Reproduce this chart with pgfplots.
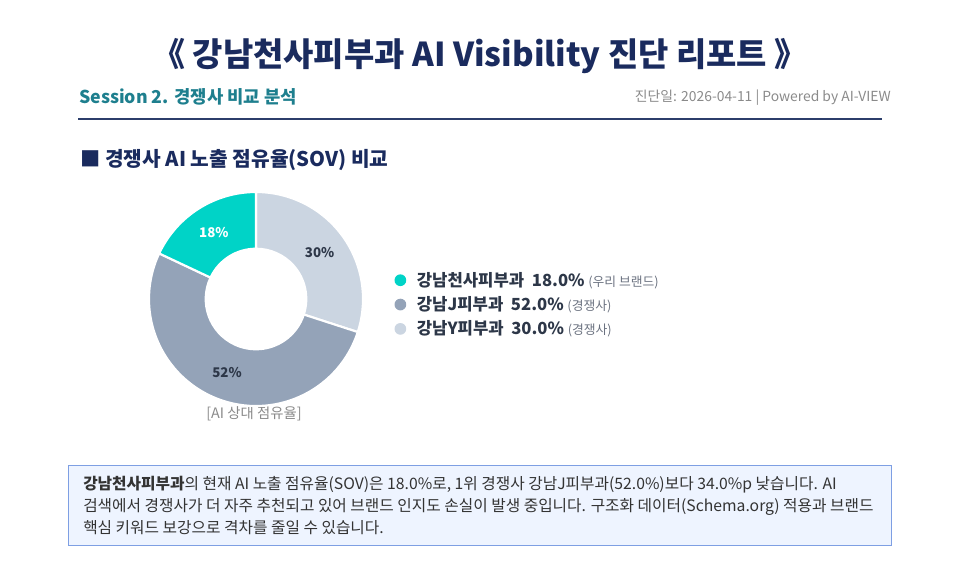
\documentclass[border=0pt]{standalone}
\usepackage{fontspec}
\setmainfont{Noto Sans CJK KR}
\usepackage{pgfplots}
\usepackage{pgfplotstable}
\pgfplotsset{compat=1.18}
\definecolor{cteal}{HTML}{00D3C7}
\definecolor{cslate}{HTML}{94A3B8}
\definecolor{clight}{HTML}{CBD5E1}
\definecolor{navy}{HTML}{1A2B5E}
\definecolor{sesscol}{HTML}{1E7F8E}
\definecolor{dategray}{HTML}{8A8A8A}
\definecolor{linecol}{HTML}{2C3E6B}
\definecolor{boxfill}{HTML}{EEF4FF}
\definecolor{boxdraw}{HTML}{7E9FE3}
\definecolor{bodytext}{HTML}{333333}
\definecolor{legdark}{HTML}{2D3748}
\definecolor{leggray}{HTML}{6B7280}
\pgfplotstableread{
label value
A 18
B 52
C 30
}\sovdata
\begin{document}
\begin{tikzpicture}
\pgfplotstablegetelem{0}{value}\of\sovdata \let\vA\pgfplotsretval
\pgfplotstablegetelem{1}{value}\of\sovdata \let\vB\pgfplotsretval
\pgfplotstablegetelem{2}{value}\of\sovdata \let\vC\pgfplotsretval
\pgfmathsetmacro\sC{90}
\pgfmathsetmacro\eC{\sC-3.6*\vC}
\pgfmathsetmacro\eB{\eC-3.6*\vB}
\pgfmathsetmacro\eA{\eB-3.6*\vA}
\pgfmathsetmacro\mC{(\sC+\eC)/2}
\pgfmathsetmacro\mB{(\eC+\eB)/2}
\pgfmathsetmacro\mA{(\eB+\eA)/2}
\def\ri{0.47}
\begin{scope}[x=0.75pt,y=-0.75pt]
\useasboundingbox (0,0) rectangle (960,573);
\node[anchor=base, inner sep=0, text=navy, font=\fontsize{24.7}{28}\selectfont\bfseries] at (480,67) {《 강남천사피부과 AI Visibility 진단 리포트 》};
\node[anchor=base west, inner sep=0, text=sesscol, font=\fontsize{13.3}{16}\selectfont\bfseries] at (79,104) {Session 2. 경쟁사 비교 분석};
\node[anchor=base east, inner sep=0, text=dategray, font=\fontsize{10.4}{12}\selectfont] at (891,102) {진단일: 2026-04-11 | Powered by AI-VIEW};
\draw[linecol, line width=1.4pt] (78,119) -- (882,119);
\node[anchor=base west, inner sep=0, text=navy, font=\fontsize{15.2}{18}\selectfont\bfseries] at (80,167) {■ 경쟁사 AI 노출 점유율(SOV) 비교};
\node[anchor=base, inner sep=0, text=dategray, font=\fontsize{10.8}{12}\selectfont] at (254,418) {[AI 상대 점유율]};
\draw[boxdraw, fill=boxfill, line width=0.8pt] (68.5,465.5) rectangle (891.5,545.5);
\node[anchor=north west, inner sep=0, text=bodytext, font=\fontsize{11.8}{16.5}\selectfont, align=left] at (83,475.5) {\textbf{강남천사피부과}의 현재 AI 노출 점유율(SOV)은 18.0\%로, 1위 경쟁사 강남J피부과(52.0\%)보다 34.0\%p 낮습니다. AI\\검색에서 경쟁사가 더 자주 추천되고 있어 브랜드 인지도 손실이 발생 중입니다. 구조화 데이터(Schema.org) 적용과 브랜드\\핵심 키워드 보강으로 격차를 줄일 수 있습니다.};
\end{scope}
\begin{axis}[
  at={(192pt,-224.25pt)}, anchor=center,
  scale only axis, width=160.5pt, height=160.5pt,
  xmin=-1, xmax=1, ymin=-1, ymax=1,
  hide axis, clip=false,
  legend style={draw=none, fill=none, at={(1.146,0.474)}, anchor=west,
    row sep=2.2pt, font=\fontsize{12.5}{14}\selectfont, inner sep=0pt},
  legend cell align=left,
  legend image code/.code={\path[draw=none,fill=none] (-4.4pt,0) rectangle (10.4pt,0.1pt); \fill[#1, draw=none] (0,0) circle (4.4pt);},
]
\addlegendimage{cteal}
\addlegendentry{\textcolor{legdark}{\textbf{강남천사피부과\ \ 18.0\%}} \textcolor{leggray}{\fontsize{9.6}{11}\selectfont(우리 브랜드)}}
\addlegendimage{cslate}
\addlegendentry{\textcolor{legdark}{\textbf{강남J피부과\ \ 52.0\%}} \textcolor{leggray}{\fontsize{9.6}{11}\selectfont(경쟁사)}}
\addlegendimage{clight}
\addlegendentry{\textcolor{legdark}{\textbf{강남Y피부과\ \ 30.0\%}} \textcolor{leggray}{\fontsize{9.6}{11}\selectfont(경쟁사)}}
\filldraw[fill=clight, draw=white, line width=1.6pt] (axis cs:{\ri*cos(\sC)},{\ri*sin(\sC)}) -- (axis cs:{cos(\sC)},{sin(\sC)}) arc[start angle=\sC, end angle=\eC, radius=1] -- (axis cs:{\ri*cos(\eC)},{\ri*sin(\eC)}) arc[start angle=\eC, end angle=\sC, radius=\ri] -- cycle;
\filldraw[fill=cslate, draw=white, line width=1.6pt] (axis cs:{\ri*cos(\eC)},{\ri*sin(\eC)}) -- (axis cs:{cos(\eC)},{sin(\eC)}) arc[start angle=\eC, end angle=\eB, radius=1] -- (axis cs:{\ri*cos(\eB)},{\ri*sin(\eB)}) arc[start angle=\eB, end angle=\eC, radius=\ri] -- cycle;
\filldraw[fill=cteal, draw=white, line width=1.6pt] (axis cs:{\ri*cos(\eB)},{\ri*sin(\eB)}) -- (axis cs:{cos(\eB)},{sin(\eB)}) arc[start angle=\eB, end angle=\eA, radius=1] -- (axis cs:{\ri*cos(\eA)},{\ri*sin(\eA)}) arc[start angle=\eA, end angle=\eB, radius=\ri] -- cycle;
\node[text=white, font=\fontsize{10}{12}\selectfont\bfseries] at (axis cs:{0.735*cos(\mA)},{0.735*sin(\mA)}) {18\%};
\node[text=legdark, font=\fontsize{10}{12}\selectfont\bfseries] at (axis cs:{0.735*cos(\mB)},{0.735*sin(\mB)}) {52\%};
\node[text=legdark, font=\fontsize{10}{12}\selectfont\bfseries] at (axis cs:{0.735*cos(\mC)},{0.735*sin(\mC)}) {30\%};
\end{axis}
\end{tikzpicture}
\end{document}
